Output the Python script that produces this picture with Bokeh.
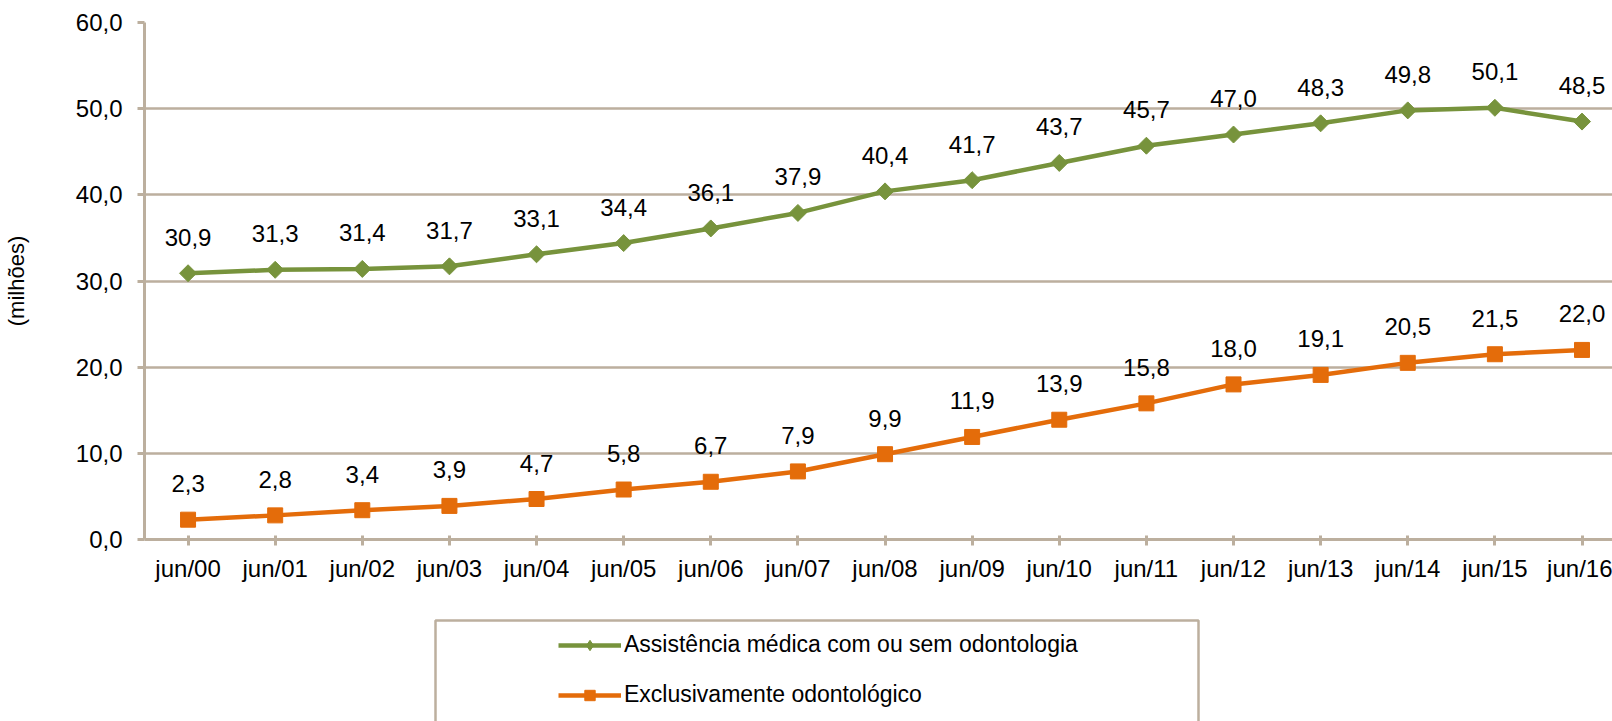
import math
from bokeh.plotting import figure
from bokeh.layouts import column
from bokeh.models import (ColumnDataSource, FixedTicker, Range1d, Legend,
                          LegendItem, BoxAnnotation)
from bokeh.core.properties import value
from bokeh.embed import file_html
from bokeh.resources import INLINE

# ---------------- data ----------------
categories = ["jun/00", "jun/01", "jun/02", "jun/03", "jun/04", "jun/05",
              "jun/06", "jun/07", "jun/08", "jun/09", "jun/10", "jun/11",
              "jun/12", "jun/13", "jun/14", "jun/15", "jun/16"]
assistencia_medica = [30.9, 31.3, 31.4, 31.7, 33.1, 34.4, 36.1, 37.9, 40.4,
                      41.7, 43.7, 45.7, 47.0, 48.3, 49.8, 50.1, 48.5]
exclusivamente_odonto = [2.3, 2.8, 3.4, 3.9, 4.7, 5.8, 6.7, 7.9, 9.9,
                         11.9, 13.9, 15.8, 18.0, 19.1, 20.5, 21.5, 22.0]
series_names = ["Assistência médica com ou sem odontologia",
                "Exclusivamente odontológico"]
y_ticks = [0, 10, 20, 30, 40, 50, 60]
y_tick_labels = ["0,0", "10,0", "20,0", "30,0", "40,0", "50,0", "60,0"]
y_title = "(milhões)"

# ---------------- style ----------------
FONT = "Liberation Sans"
GRID = "#BCAF9E"
GREEN = "#77933C"
ORANGE = "#E46C0A"


def fmt(v):
    return f"{v:.1f}".replace(".", ",")


x = list(range(len(categories)))
src = ColumnDataSource(dict(
    x=x,
    med=assistencia_medica,
    odo=exclusivamente_odonto,
    med_lbl=[fmt(v) for v in assistencia_medica],
    odo_lbl=[fmt(v) for v in exclusivamente_odonto],
))

p = figure(width=1612, height=600, output_backend="svg", toolbar_location=None,
           x_range=Range1d(-0.5, 16.35), y_range=Range1d(0, 60),
           min_border_left=144, min_border_right=0, min_border_top=22,
           min_border_bottom=61)
p.outline_line_color = None
p.background_fill_color = "white"
p.border_fill_color = "white"

# grid
p.xgrid.grid_line_color = None
p.ygrid.ticker = FixedTicker(ticks=y_ticks)
p.ygrid.grid_line_color = GRID
p.ygrid.grid_line_width = 2.5

# y axis
ya = p.yaxis[0]
ya.ticker = FixedTicker(ticks=y_ticks)
ya.major_label_overrides = dict(zip(y_ticks, y_tick_labels))
ya.axis_line_color = GRID
ya.axis_line_width = 3
ya.major_tick_line_color = GRID
ya.major_tick_line_width = 3
ya.major_tick_out = 7
ya.major_tick_in = 0
ya.minor_tick_line_color = None
ya.major_label_standoff = 15
ya.major_label_text_font = FONT
ya.major_label_text_font_size = "24px"
ya.major_label_text_color = "black"
ya.axis_label = y_title
ya.axis_label_text_font = FONT
ya.axis_label_text_font_size = "22px"
ya.axis_label_text_font_style = "normal"
ya.axis_label_text_color = "black"
ya.axis_label_standoff = 44

# x axis
xa = p.xaxis[0]
xa.ticker = FixedTicker(ticks=x)
xa.major_label_overrides = dict(zip(x, categories))
xa.axis_line_color = GRID
xa.axis_line_width = 3
xa.major_tick_line_color = GRID
xa.major_tick_line_width = 3
xa.major_tick_out = 6
xa.major_tick_in = 4
xa.minor_tick_line_color = None
xa.major_label_standoff = 9
xa.major_label_text_font = FONT
xa.major_label_text_font_size = "24px"
xa.major_label_text_color = "black"

# series
line_kw = dict(line_width=4.5)
med_mark_kw = dict(marker="square", angle=math.pi / 4, size=12,
                   fill_color=GREEN, line_color=GREEN)
odo_mark_kw = dict(marker="square", size=15, fill_color=ORANGE,
                   line_color=ORANGE)

p.line("x", "med", source=src, line_color=GREEN, **line_kw)
p.scatter("x", "med", source=src, **med_mark_kw)
p.line("x", "odo", source=src, line_color=ORANGE, **line_kw)
p.scatter("x", "odo", source=src, **odo_mark_kw)

# data labels
for col, lbl in (("med", "med_lbl"), ("odo", "odo_lbl")):
    p.text("x", col, text=lbl, source=src, text_align="center",
           text_baseline="middle", y_offset=-36,
           text_font=value(FONT), text_font_size=value("24px"),
           text_color="black")

# ---------------- legend panel ----------------
# frame spans the same horizontal extent as the chart frame; ranges are in
# pixels so that the legend box can be placed in layout units.
LP_H = 121
lp = figure(width=1612, height=LP_H, output_backend="svg",
            toolbar_location=None, x_axis_type=None, y_axis_type=None,
            x_range=Range1d(0, 1468), y_range=Range1d(0, LP_H),
            min_border_left=144, min_border_right=0, min_border_top=0,
            min_border_bottom=0)
lp.outline_line_color = None
lp.grid.grid_line_color = None

box = BoxAnnotation(left=291, right=1054, top=LP_H - 20, bottom=-20,
                    fill_alpha=0, line_color=GRID, line_alpha=1,
                    line_width=2.5)
lp.add_layout(box)

r1l = lp.line("x", "med", source=src, line_color=GREEN, visible=False, **line_kw)
r1m = lp.scatter("x", "med", source=src, visible=False, marker="diamond",
                 size=17, fill_color=GREEN, line_color=GREEN)
r2l = lp.line("x", "odo", source=src, line_color=ORANGE, visible=False, **line_kw)
r2m = lp.scatter("x", "odo", source=src, visible=False, **odo_mark_kw)

legend = Legend(items=[
    LegendItem(label=series_names[0], renderers=[r1l, r1m], index=0),
    LegendItem(label=series_names[1], renderers=[r2l, r2m], index=0),
], location=(414, 13), orientation="vertical", padding=0, margin=0,
    spacing=23, glyph_width=63, glyph_height=26, label_height=26,
    label_standoff=3, border_line_color=None, background_fill_alpha=0,
    inactive_fill_alpha=0, click_policy="none",
    label_text_font=FONT, label_text_font_size="23px",
    label_text_color="black")
lp.add_layout(legend, "center")

layout = column(p, lp, spacing=0)
open("out.html", "w").write(file_html(layout, INLINE))
